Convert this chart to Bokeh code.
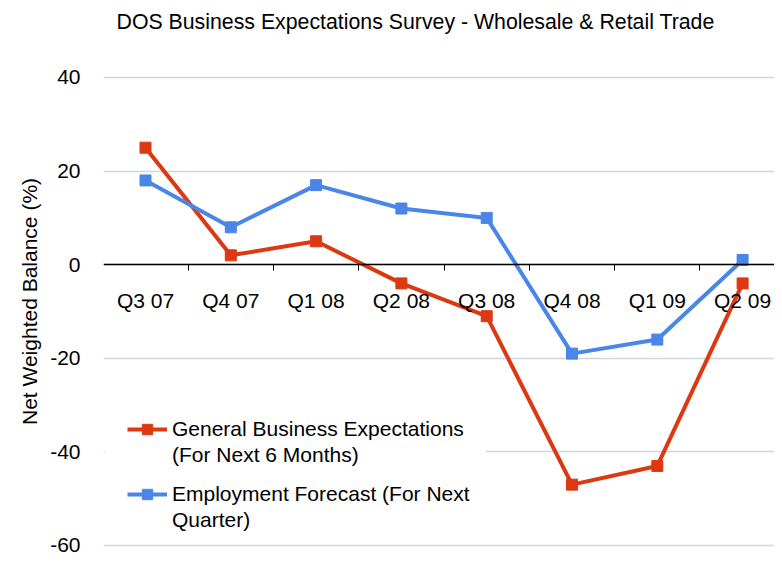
from bokeh.plotting import figure
from bokeh.models import (ColumnDataSource, LinearAxis, FixedTicker, Range1d,
                          Legend, LegendItem, Title)
from bokeh.embed import file_html
from bokeh.resources import INLINE

quarters = ["Q3 07", "Q4 07", "Q1 08", "Q2 08", "Q3 08", "Q4 08", "Q1 09", "Q2 09"]
general = [25, 2, 5, -4, -11, -47, -43, -4]
employment = [18, 8, 17, 12, 10, -19, -16, 1]
y_ticks = [-60, -40, -20, 0, 20, 40]

FONT = "Liberation Sans"
RED = "#DC3912"
BLUE = "#4A86E8"

xs = list(range(len(quarters)))
src = ColumnDataSource(dict(x=xs, general=general, employment=employment))

p = figure(width=774, height=558, output_backend="svg", toolbar_location=None,
           x_axis_location=None, x_range=Range1d(-0.4924, 7.374),
           y_range=Range1d(-62.78, 47.05),
           min_border_left=103, min_border_right=0, min_border_top=44,
           min_border_bottom=0)
p.outline_line_color = None
p.background_fill_color = "white"
p.border_fill_color = "white"

t = Title(text="DOS Business Expectations Survey - Wholesale & Retail Trade",
          text_font=FONT, text_font_size="21.3px", text_font_style="normal",
          text_color="black", align="left", offset=13, standoff=18,
          vertical_align="top")
p.add_layout(t, "above")

# y axis (tick labels only, hyphen minus as in the original)
yax = p.yaxis[0]
yax.ticker = FixedTicker(ticks=y_ticks)
yax.major_label_overrides = {v: str(v) for v in y_ticks}
yax.axis_line_color = None
yax.major_tick_line_color = None
yax.minor_tick_line_color = None
yax.major_label_text_font = FONT
yax.major_label_text_font_size = "21px"
yax.major_label_text_color = "black"
yax.major_label_standoff = 17
yax.axis_label = "Net Weighted Balance (%)"
yax.axis_label_text_font = FONT
yax.axis_label_text_font_size = "21px"
yax.axis_label_text_font_style = "normal"
yax.axis_label_text_color = "black"
yax.axis_label_standoff = 6

p.ygrid.ticker = FixedTicker(ticks=y_ticks)
p.ygrid.grid_line_color = "#d4d4d4"
p.ygrid.grid_line_width = 1.5
p.xgrid.grid_line_color = None

# x axis on the zero line, ticks between categories
boundaries = [i - 0.5 for i in range(len(quarters) + 1)]
xax = LinearAxis(fixed_location=0,
                 ticker=FixedTicker(ticks=xs, minor_ticks=boundaries),
                 major_label_overrides={i: q for i, q in enumerate(quarters)})
xax.axis_line_color = "black"
xax.axis_line_width = 1.5
xax.major_tick_in = 0
xax.major_tick_out = 0
xax.minor_tick_in = 0
xax.minor_tick_out = 6
xax.minor_tick_line_color = "black"
xax.minor_tick_line_width = 1
xax.major_label_text_font = FONT
xax.major_label_text_font_size = "21px"
xax.major_label_text_color = "black"
xax.major_label_standoff = 18
p.add_layout(xax, "below")

lg = p.line("x", "general", source=src, line_color=RED, line_width=4)
mg = p.scatter("x", "general", source=src, marker="square", size=11,
               fill_color=RED, line_color=RED)
le = p.line("x", "employment", source=src, line_color=BLUE, line_width=4)
me = p.scatter("x", "employment", source=src, marker="square", size=11,
               fill_color=BLUE, line_color=BLUE)
# invisible spacer glyph for the wrapped second line of each legend entry
spacer = p.line(x=[], y=[], line_alpha=0)


def style_legend(lgd):
    lgd.background_fill_color = "white"
    lgd.background_fill_alpha = 1
    lgd.label_text_font = FONT
    lgd.label_text_font_size = "21px"
    lgd.label_text_color = "black"
    lgd.glyph_width = 40
    lgd.glyph_height = 26
    lgd.label_height = 26
    lgd.label_standoff = 5
    lgd.spacing = 0
    lgd.margin = 0


legend_a = Legend(items=[
    LegendItem(label="General Business Expectations", renderers=[lg, mg]),
    LegendItem(label="(For Next 6 Months)", renderers=[spacer]),
], location=(2, 68))
style_legend(legend_a)
legend_a.border_line_color = "white"
legend_a.border_line_alpha = 0
legend_a.padding = 22

legend_b = Legend(items=[
    LegendItem(label="Employment Forecast (For Next", renderers=[le, me]),
    LegendItem(label="Quarter)", renderers=[spacer]),
], location=(24, 25))
style_legend(legend_b)
legend_b.border_line_color = None
legend_b.background_fill_alpha = 0
legend_b.padding = 0

p.add_layout(legend_a, "center")
p.add_layout(legend_b, "center")

open("out.html", "w").write(file_html(p, INLINE))
